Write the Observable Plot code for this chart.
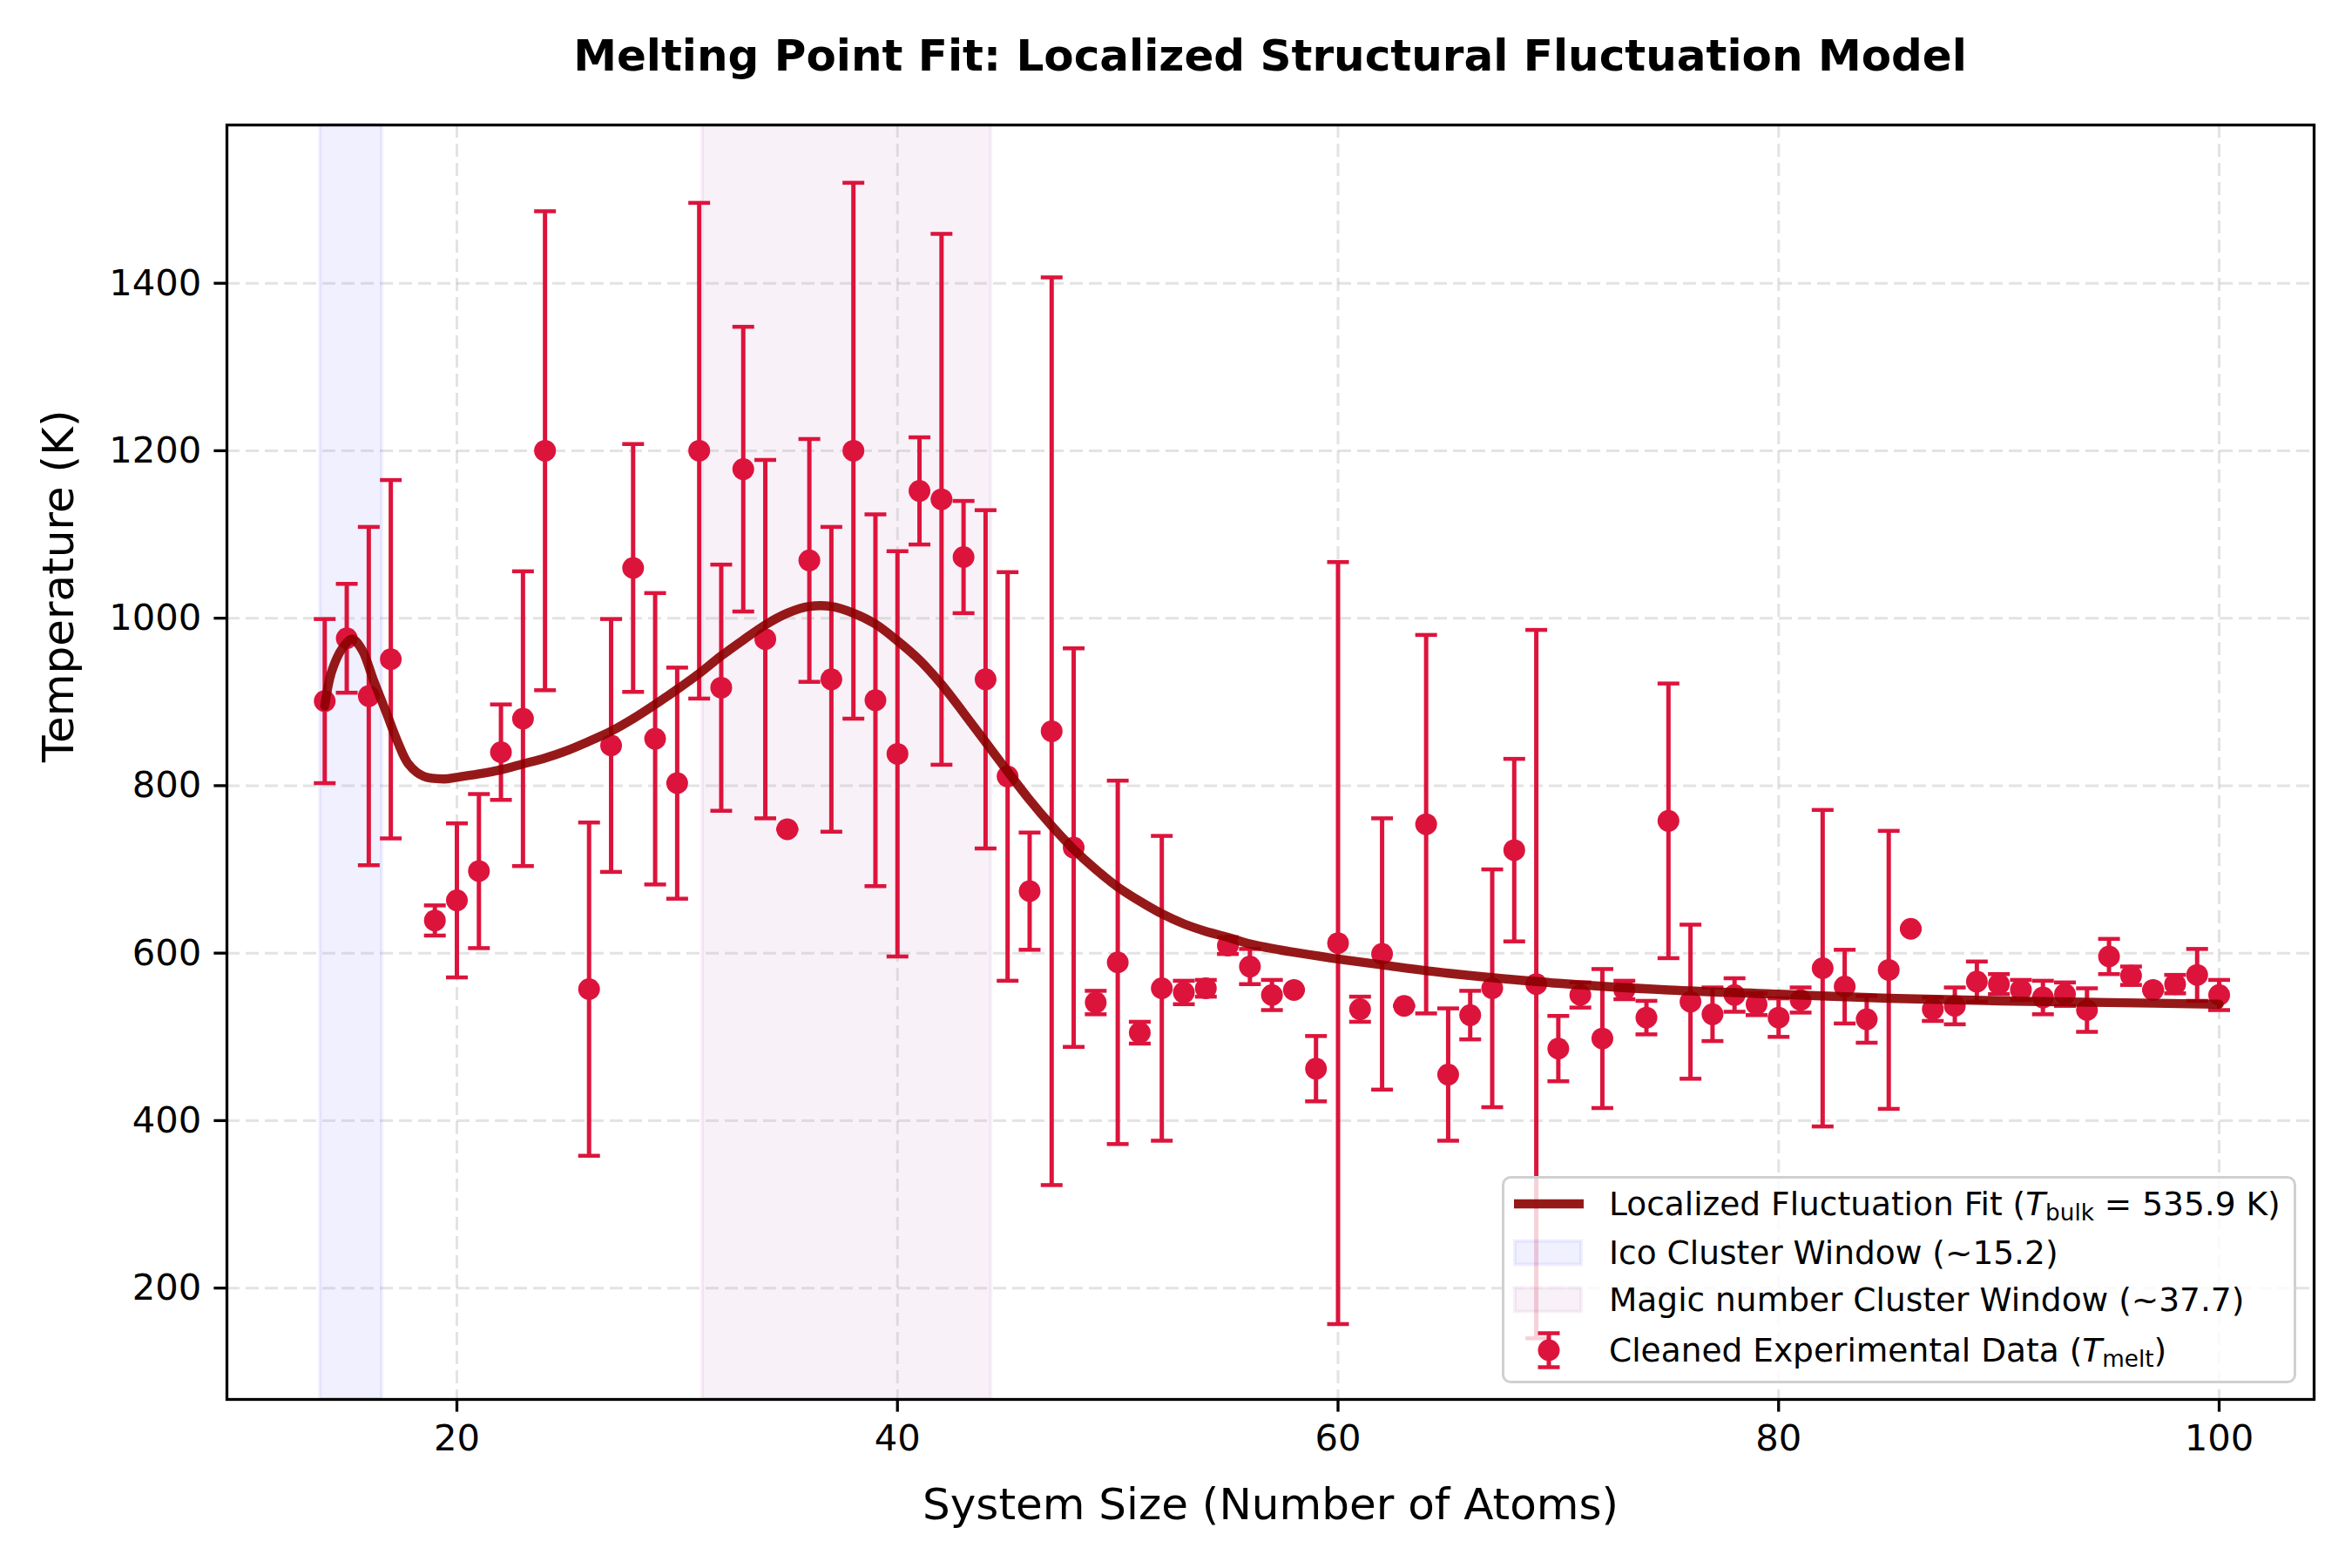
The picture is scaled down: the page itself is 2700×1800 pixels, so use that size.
<!DOCTYPE html>
<html>
<head>
<meta charset="utf-8">
<script src="https://cdn.jsdelivr.net/npm/d3@7"></script>
<script src="https://cdn.jsdelivr.net/npm/@observablehq/plot@0.6"></script>
<style>
html, body { margin: 0; padding: 0; background: #ffffff; }
#wrap { position: relative; width: 2700px; height: 1800px; font-family: "DejaVu Sans", sans-serif; color: #000; }
#title { height: 100px; box-sizing: border-box; padding-top: 39px; padding-left: 216px; line-height: 50px; font-size: 50px; font-weight: bold; text-align: center; white-space: nowrap; }
#legend { position: absolute; left: 1724px; top: 1350px; width: 912px; height: 238px; box-sizing: border-box; border: 3px solid #d0d0d0; border-radius: 10px; background: rgba(255,255,255,0.8); font-size: 37.5px; }
#legend .row { position: absolute; left: 0; height: 56px; width: 900px; }
#legend .row svg { position: absolute; left: 0; top: 0; }
#legend .row span { position: absolute; left: 120px; top: 0; line-height: 56px; white-space: nowrap; }
#legend sub { font-size: 70%; vertical-align: -0.22em; line-height: 0; }
#legend i { font-style: italic; }
</style>
</head>
<body>
<div id="wrap">
  <div id="title">Melting Point Fit: Localized Structural Fluctuation Model</div>
  <div id="chart"></div>
  <div id="legend">
    <div class="row" style="top:1px">
      <svg width="110" height="56"><line x1="11" x2="91" y1="28" y2="28" stroke="#8b0000" stroke-opacity="0.9" stroke-width="10.4"/></svg>
      <span>Localized Fluctuation Fit (<i>T</i><sub>bulk</sub> = 535.9 K)</span>
    </div>
    <div class="row" style="top:57px">
      <svg width="110" height="56"><rect x="12" y="14.5" width="76" height="27" fill="rgb(0,0,255)" fill-opacity="0.06" stroke="rgb(0,0,255)" stroke-opacity="0.06" stroke-width="4"/></svg>
      <span>Ico Cluster Window (~15.2)</span>
    </div>
    <div class="row" style="top:111px">
      <svg width="110" height="56"><rect x="12" y="14.5" width="76" height="27" fill="rgb(128,0,128)" fill-opacity="0.055" stroke="rgb(128,0,128)" stroke-opacity="0.055" stroke-width="4"/></svg>
      <span>Magic number Cluster Window (~37.7)</span>
    </div>
    <div class="row" style="top:169px">
      <svg width="110" height="56">
        <line x1="51" x2="51" y1="8.5" y2="47.5" stroke="#DC143C" stroke-width="5"/>
        <line x1="38.5" x2="63.5" y1="8.5" y2="8.5" stroke="#DC143C" stroke-width="4.5"/>
        <line x1="38.5" x2="63.5" y1="47.5" y2="47.5" stroke="#DC143C" stroke-width="4.5"/>
        <circle cx="51" cy="28" r="12.5" fill="#DC143C"/>
      </svg>
      <span>Cleaned Experimental Data (<i>T</i><sub>melt</sub>)</span>
    </div>
  </div>
</div>
<script>
// ---- Data ----
const sizes = [14,15,16,17,19,20,21,22,23,24,26,27,28,29,30,31,32,33,34,35,36,37,38,39,40,41,42,43,44,45,46,47,48,49,50,51,52,53,54,55,56,57,58,59,60,61,62,63,64,65,66,67,68,69,70,71,72,73,74,75,76,77,78,79,80,81,82,83,84,85,86,87,88,89,90,91,92,93,94,95,96,97,98,99,100];
const tMelt = [901,976,907,951,639,663,698,840,880,1200,557,848,1060,856,803,1200,917,1178,975,748,1069,927,1200,902,838,1152,1142,1073,927,811,674,865,726,541,589,505,558,553,558,609,584,550,556,462,612,533,599,537,754,455,526,558,723,563,486,550,498,556,523,758,542,527,550,539,523,544,582,560,521,580,629,533,537,566,563,556,547,551,532,596,573,556,563,574,550];
const tErr = [98,65,202,214,18,92,92,57,176,286,199,151,148,174,138,296,147,170,214,0,145,182,320,222,242,64,317,67,202,244,70,542,238,14,217,13,182,14,10,10,21,18,0,39,455,15,162,0,226,79,29,142,109,423,39,15,83,11,20,164,92,32,20,13,23,15,189,44,28,166,0,14,22,24,12,12,20,14,26,21,11,0,11,31,18];

// fitted model curve
const fitX = [14,14.3,14.8,15.25,15.7,16.2,16.8,17.3,17.8,18.5,19.4,20,21,22,23,24,25,26,27,28,29,30,31,32,33,34,35,36,37,38,39,40,41,42,43,44,45,46,47,48,49,50,51,52,53,54,55,56,58,60,62,65,70,75,80,85,90,95,100];
const fitY = [895,935,964,975,962,927,887,853,826,811,808,810,814,819,826,833,842,853,865,880,897,915,934,955,974,992,1006,1014,1014,1006,993,973,950,921,887,852,817,783,752,724,700,679,662,647,635,626,619,611,601,593,586,576,564,556,551,546,543,541,539];

const icoWindow = [13.8, 16.6];
const magicWindow = [31.15, 44.25];

const xTicks = [20, 40, 60, 80, 100];
const yTicks = [200, 400, 600, 800, 1000, 1200, 1400];
const xLabel = "System Size (Number of Atoms)";
const yLabel = "Temperature (K)";

// ---- Build tables ----
const points = sizes.map((n, i) => ({n, t: tMelt[i], lo: tMelt[i] - tErr[i], hi: tMelt[i] + tErr[i]}));
const fit = fitX.map((x, i) => ({x, y: fitY[i]}));
const spans = [
  {x1: icoWindow[0], x2: icoWindow[1], c: "rgb(0,0,255)", o: 0.06},
  {x1: magicWindow[0], x2: magicWindow[1], c: "rgb(128,0,128)", o: 0.055}
];

const crimson = "#DC143C";
const capHalf = 12.5;
const capSymbol = {
  draw(context) {
    context.moveTo(-capHalf, 0);
    context.lineTo(capHalf, 0);
  }
};

const chart = Plot.plot({
  width: 2700,
  height: 1700,
  marginTop: 43,
  marginBottom: 194,
  marginLeft: 260,
  marginRight: 44,
  style: {fontFamily: "DejaVu Sans", color: "black", background: "white", overflow: "visible"},
  x: {domain: [9.56, 104.31]},
  y: {domain: [67, 1589]},
  marks: [
    Plot.rect(spans, {x1: "x1", x2: "x2", fill: d => d.c, fillOpacity: d => d.o, stroke: d => d.c, strokeOpacity: d => d.o, strokeWidth: 4}),
    Plot.gridX(xTicks, {stroke: "#b0b0b0", strokeOpacity: 0.35, strokeWidth: 3, strokeDasharray: "15,7"}),
    Plot.gridY(yTicks, {stroke: "#b0b0b0", strokeOpacity: 0.35, strokeWidth: 3, strokeDasharray: "15,7"}),
    Plot.ruleX(points, {x: "n", y1: "lo", y2: "hi", stroke: crimson, strokeWidth: 5}),
    Plot.dot(points, {x: "n", y: "lo", symbol: capSymbol, r: 12.5, fill: "none", stroke: crimson, strokeWidth: 4.5}),
    Plot.dot(points, {x: "n", y: "hi", symbol: capSymbol, r: 12.5, fill: "none", stroke: crimson, strokeWidth: 4.5}),
    Plot.dot(points, {x: "n", y: "t", r: 12.5, fill: crimson, stroke: "none"}),
    Plot.line(fit, {x: "x", y: "y", stroke: "#8b0000", strokeOpacity: 0.9, strokeWidth: 10.4, curve: "catmull-rom", strokeLinejoin: "round"}),
    Plot.frame({stroke: "black", strokeWidth: 3.3}),
    Plot.axisX({ticks: xTicks, tickSize: 14.6, tickPadding: 14.6, fontSize: 41.7, strokeWidth: 3.3, label: null, tickFormat: d3.format("d")}),
    Plot.axisY({ticks: yTicks, tickSize: 14.6, tickPadding: 14.6, fontSize: 41.7, strokeWidth: 3.3, label: null, tickFormat: d3.format("d")}),
    Plot.text([xLabel], {frameAnchor: "bottom", dy: 121, fontSize: 50, lineAnchor: "middle", fill: "black"}),
    Plot.text([yLabel], {frameAnchor: "left", dx: -193, rotate: -90, fontSize: 50, lineAnchor: "middle", fill: "black"})
  ]
});
document.getElementById("chart").appendChild(chart);
</script>
</body>
</html>
